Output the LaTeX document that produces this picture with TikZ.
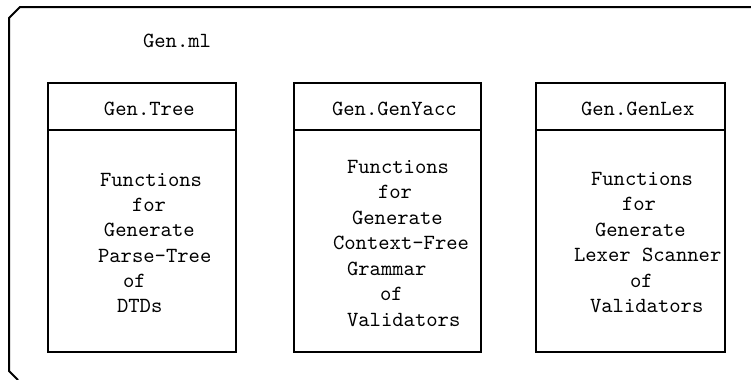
\documentclass[tikz,border=0pt]{standalone}
\usepackage{fontspec}
\begin{document}
\begin{tikzpicture}[x=0.5pt,y=-0.5pt,
  txt/.style={anchor=base west,inner sep=0pt,outer sep=0pt,font=\ttfamily\fontsize{10.8}{12}\selectfont},
  frame/.style={line width=1pt,line join=miter},
  box/.style={line width=1pt}]
\useasboundingbox (0,0) rectangle (751,380);
% outer frame
\draw[frame] (18,380) -- (9,371) -- (9,18) -- (20,7) -- (751,7);
\node[txt] (genml) at (143,47) {Gen.ml};
% boxes
\draw[box] (48,83) rectangle (236,352);
\draw[box] (48,130) -- (236,130);
\draw[box] (294,83) rectangle (481,352);
\draw[box] (294,130) -- (481,130);
\draw[box] (536,83) rectangle (725,352);
\draw[box] (536,130) -- (725,130);
% box 1
\node[txt] (h1) at (104,115) {Gen.Tree};
\node[txt] (a1) at (100,186) {Functions};
\node[txt] (a2) at (132,211) {for};
\node[txt] (a3) at (104,236) {Generate};
\node[txt] (a4) at (98,262) {Parse-Tree};
\node[txt] (a5) at (123,287) {of};
\node[txt] (a6) at (117,312) {DTDs};
% box 2
\node[txt] (h2) at (332,115) {Gen.GenYacc};
\node[txt] (b1) at (347,173) {Functions};
\node[txt] (b2) at (378,198) {for};
\node[txt] (b3) at (352,224) {Generate};
\node[txt] (b4) at (333,249) {Context-Free};
\node[txt] (b5) at (347,275) {Grammar};
\node[txt] (b6) at (380,300) {of};
\node[txt] (b7) at (347,326) {Validators};
% box 3
\node[txt] (h3) at (581,115) {Gen.GenLex};
\node[txt] (c1) at (591,185) {Functions};
\node[txt] (c2) at (622,210) {for};
\node[txt] (c3) at (595,236) {Generate};
\node[txt] (c4) at (574,261) {Lexer Scanner};
\node[txt] (c5) at (630,287) {of};
\node[txt] (c6) at (590,312) {Validators};
\end{tikzpicture}
\end{document}
